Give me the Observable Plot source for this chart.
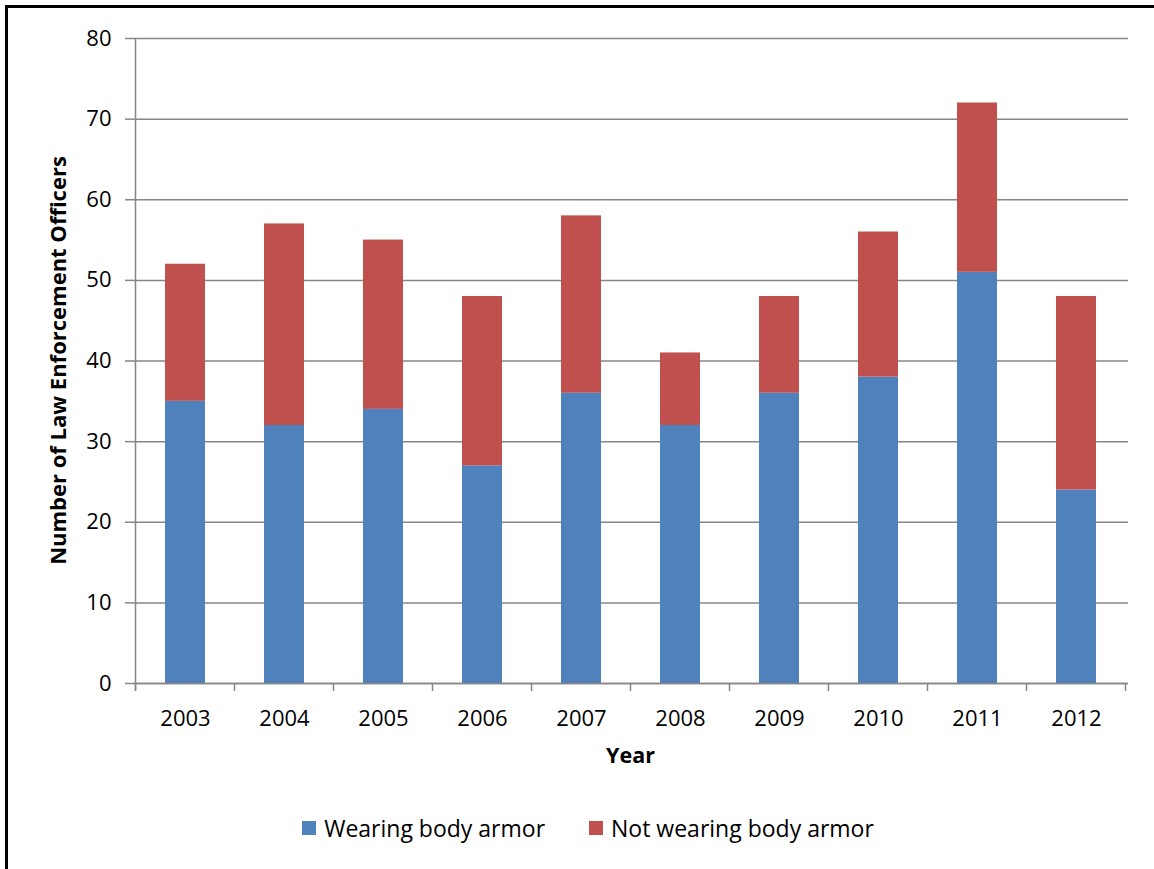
<!DOCTYPE html>
<html>
<head>
<meta charset="utf-8">
<script src="https://cdn.jsdelivr.net/npm/d3@7"></script>
<script src="https://cdn.jsdelivr.net/npm/@observablehq/plot@0.6"></script>
<style>
  html, body { margin: 0; padding: 0; background: #fff; }
  #wrap { position: relative; width: 1154px; height: 869px; overflow: hidden; font-family: "Open Sans", sans-serif; }
  #border { position: absolute; left: 5px; top: 5px; width: 1300px; height: 1000px; border-left: 3px solid #000; border-top: 3px solid #000; }
  #chart { position: absolute; left: 0; top: 0; }
  #legend { position: absolute; left: 0; top: 812px; width: 1176px; display: flex; justify-content: center; gap: 44px; font-size: 23px; color: #000; }
  .item { display: flex; align-items: center; }
  .sw { width: 14px; height: 14px; margin-right: 8px; }
</style>
</head>
<body>
<div id="wrap">
  <div id="border"></div>
  <div id="chart"></div>
  <div id="legend"></div>
</div>
<script>
const years = ["2003","2004","2005","2006","2007","2008","2009","2010","2011","2012"];
const wearing = [35,32,34,27,36,32,36,38,51,24];
const notWearing = [17,25,21,21,22,9,12,18,21,24];
const seriesNames = ["Wearing body armor","Not wearing body armor"];
const seriesColors = ["#4F81BD","#C0504D"];
const yTicks = [0,10,20,30,40,50,60,70,80];

const rows = [];
years.forEach((y, i) => {
  rows.push({year: y, series: seriesNames[0], value: wearing[i]});
  rows.push({year: y, series: seriesNames[1], value: notWearing[i]});
});

const W = 1154, H = 790;
const plot = Plot.plot({
  width: W,
  height: H,
  marginLeft: 133,
  marginRight: 26,
  marginTop: 38,
  marginBottom: 107,
  style: {fontFamily: "'Open Sans', sans-serif", fontSize: "22px", color: "#000", background: "transparent"},
  x: {domain: years, paddingInner: 0.6, paddingOuter: 0.3, label: null},
  y: {domain: [0, 80], label: null},
  color: {domain: seriesNames, range: seriesColors},
  marks: [
    Plot.gridY(yTicks, {stroke: "#868686", strokeOpacity: 1, strokeWidth: 1.5}),
    Plot.barY(rows, Plot.stackY({order: seriesNames, x: "year", y: "value", fill: "series"})),
    Plot.ruleY([0], {stroke: "#868686", strokeWidth: 1.5}),
    Plot.axisY(yTicks, {tickSize: 8, tickPadding: 14, stroke: "#868686", strokeWidth: 1.5, fill: "#000", fontSize: 22, label: null}),
    Plot.axisX({tickSize: 0, tickPadding: 27, fill: "#000", fontSize: 22, label: null})
  ]
});
document.getElementById("chart").appendChild(plot);

// Category boundary ticks and y-axis line, positioned through the plot's own scales
const xs = plot.scale("x");
const ys = plot.scale("y");
const svg = d3.select(plot);
const step = xs.step;
const bw = xs.bandwidth;
const y0 = ys.apply(0), y80 = ys.apply(80);
const bounds = years.map(y => xs.apply(y) - (step - bw) / 2);
bounds.push(xs.apply(years[years.length - 1]) + bw + (step - bw) / 2);
const g = svg.append("g").attr("stroke", "#868686").attr("stroke-width", 1.5);
g.append("line").attr("x1", bounds[0]).attr("x2", bounds[0]).attr("y1", y80).attr("y2", y0 + 8);
bounds.forEach(b => g.append("line").attr("x1", b).attr("x2", b).attr("y1", y0).attr("y2", y0 + 8));

// Axis titles
svg.append("text")
  .attr("transform", `translate(60,${(y0 + y80) / 2}) rotate(-90)`)
  .attr("text-anchor", "middle").attr("dominant-baseline", "middle")
  .attr("font-weight", "bold").attr("font-size", 22).attr("fill", "#000")
  .text("Number of Law Enforcement Officers");
svg.append("text")
  .attr("x", (bounds[0] + bounds[bounds.length - 1]) / 2).attr("y", 757)
  .attr("text-anchor", "middle").attr("dominant-baseline", "middle")
  .attr("font-weight", "bold").attr("font-size", 21.5).attr("fill", "#000")
  .text("Year");

// Legend
const leg = document.getElementById("legend");
seriesNames.forEach((s, i) => {
  const it = document.createElement("div"); it.className = "item";
  const sw = document.createElement("div"); sw.className = "sw"; sw.style.background = seriesColors[i];
  const t = document.createElement("span"); t.textContent = s;
  it.appendChild(sw); it.appendChild(t); leg.appendChild(it);
});
</script>
</body>
</html>
